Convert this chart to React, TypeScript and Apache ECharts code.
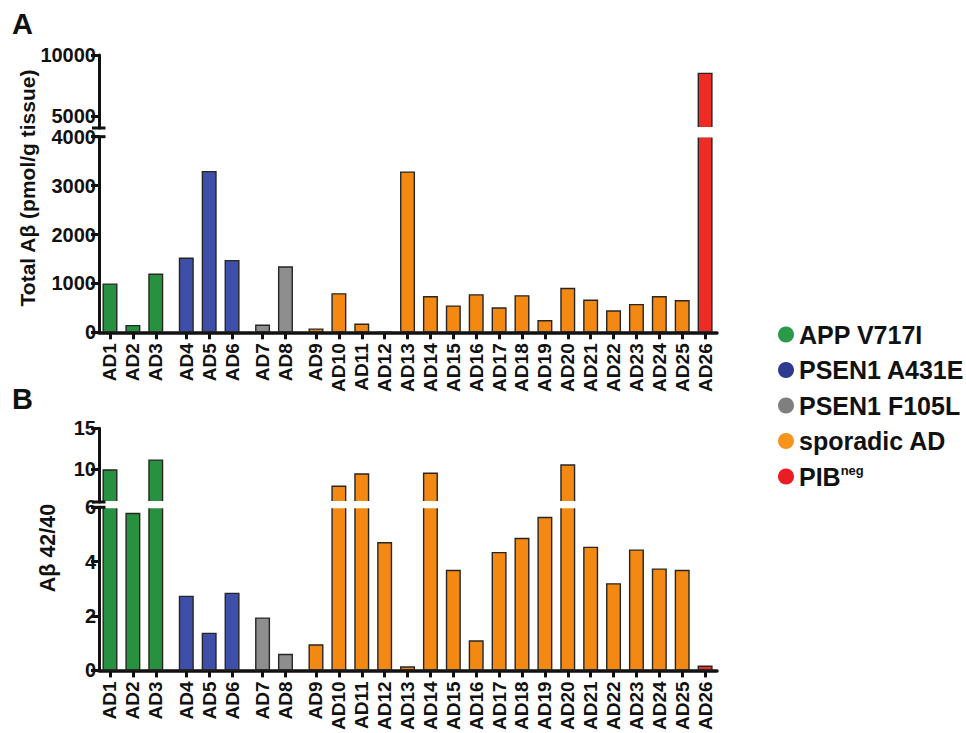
import React, { useEffect, useRef } from 'react';
import * as echarts from 'echarts';

const cases = ['AD1','AD2','AD3','AD4','AD5','AD6','AD7','AD8','AD9','AD10','AD11','AD12','AD13','AD14','AD15','AD16','AD17','AD18','AD19','AD20','AD21','AD22','AD23','AD24','AD25','AD26'];
// colour group of each case
const groupOf = [0,0,0,1,1,1,2,2,3,3,3,3,3,3,3,3,3,3,3,3,3,3,3,3,3,4];
// visual cluster of each case (small gaps between clusters)
const clusterOf = [0,0,0,1,1,1,2,2,3,3,3,3,3,3,3,3,3,3,3,3,3,3,3,3,3,3];
const groupNames = ['APP V717I','PSEN1 A431E','PSEN1 F105L','sporadic AD','PIB'];
const barColors = ['#27913f','#3d4fa8','#8d8e8d','#f38812','#ee2b24'];
const legendColors = ['#2a9a48','#2e3a8f','#7f7f7f','#f7941d','#ec1c24'];

// Panel A: Total Aβ (pmol/g tissue)
const totalAbeta = [1000,150,1200,1530,3300,1480,160,1350,80,800,180,10,3290,740,550,780,510,760,250,910,670,450,580,740,660,8550];
const totalTicksUpper = [5000,10000];
const totalBreak = 4000;
const totalMax = 10000;

// Panel B: Aβ 42/40
const ratio4240 = [10.0,5.8,11.2,2.75,1.39,2.86,1.95,0.61,0.96,8.0,9.5,4.72,0.15,9.6,3.70,1.11,4.36,4.88,5.65,10.6,4.55,3.21,4.45,3.75,3.70,0.18];
const ratioTicksUpper = [10,15];
const ratioBreak = 6;
const ratioMax = 15;

const FONT = 'Liberation Sans, Arial, Helvetica, sans-serif';
const GAP = 1 / 3;
const positions = cases.map((_, i) => i + GAP * clusterOf[i]);

export default function App() {
  const ref = useRef<HTMLDivElement>(null);
  useEffect(() => {
    if (!ref.current) return;
    const chart = echarts.init(ref.current, undefined, { renderer: 'svg' });

    const left = 99;
    const width = 618;
    const grids = [
      { left, width, top: 55, height: 73 },
      { left, width, top: 136.7, height: 195.6 },
      { left, width, top: 428.3, height: 73.7 },
      { left, width, top: 507.3, height: 163.7 },
    ];

    const labelFor = (v: number) => {
      const i = positions.findIndex((p) => Math.abs(p - v) < 1e-6);
      return i >= 0 ? cases[i] : '';
    };

    const xAxes = grids.map((_, k) => {
      const lower = k % 2 === 1;
      return {
        type: 'value', gridIndex: k, min: -0.48, max: 26.52, show: lower,
        splitLine: { show: false },
        axisLine: { show: lower, onZero: false, lineStyle: { color: '#111', width: 3.5 } },
        axisTick: { show: lower, customValues: positions, length: 7, lineStyle: { color: '#111', width: 3 } },
        axisLabel: { show: lower, customValues: positions, formatter: labelFor, rotate: 90, margin: 11,
          fontSize: 19, fontWeight: 'bold', fontFamily: FONT, color: '#111' },
      };
    });

    const yCommon = (k: number) => ({
      type: 'value', gridIndex: k,
      splitLine: { show: false },
      axisLine: { show: true, onZero: false, lineStyle: { color: '#111', width: 3 } },
      axisTick: { show: true, length: 8, lineStyle: { color: '#111', width: 3 } },
      axisLabel: { fontSize: 20, fontWeight: 'bold', fontFamily: FONT, color: '#111', margin: 3, formatter: (v: number) => String(v) },
    });
    const yAxes = [
      { ...yCommon(0), min: totalBreak, max: totalMax,
        axisTick: { ...yCommon(0).axisTick, customValues: totalTicksUpper },
        axisLabel: { ...yCommon(0).axisLabel, customValues: totalTicksUpper } },
      { ...yCommon(1), min: 0, max: totalBreak, interval: 1000 },
      { ...yCommon(2), min: ratioBreak, max: ratioMax,
        axisTick: { ...yCommon(2).axisTick, customValues: ratioTicksUpper },
        axisLabel: { ...yCommon(2).axisLabel, customValues: ratioTicksUpper } },
      { ...yCommon(3), min: 0, max: ratioBreak, interval: 2 },
    ];

    const panels = [
      { values: totalAbeta, brk: totalBreak, upper: 0, lower: 1 },
      { values: ratio4240, brk: ratioBreak, upper: 2, lower: 3 },
    ];

    const series: any[] = [];
    panels.forEach((p) => {
      groupNames.forEach((name, g) => {
        const idx = cases.map((_, i) => i).filter((i) => groupOf[i] === g);
        [p.upper, p.lower].forEach((axisIdx) => {
          const isUpper = axisIdx === p.upper;
          series.push({
            type: 'bar', name, xAxisIndex: axisIdx, yAxisIndex: axisIdx,
            barWidth: 15, barGap: '-100%', clip: true,
            itemStyle: { color: barColors[g], borderColor: '#262626', borderWidth: 1.4 },
            emphasis: { disabled: true },
            data: idx.filter((i) => !isUpper || p.values[i] > p.brk).map((i) => [positions[i], p.values[i]]),
          });
        });
      });
    });

    const breakLine = (y: number) => ({
      type: 'line', z: 101,
      shape: { x1: 92, y1: y, x2: 105.5, y2: y },
      style: { stroke: '#111', lineWidth: 3 },
    });
    // white band hiding the bar edges where the axis is broken
    const band = (yTop: number, yBottom: number) => ({
      type: 'rect', z: 100,
      shape: { x: 101.5, y: yTop - 0.9, width: 616, height: yBottom - yTop + 1.8 },
      style: { fill: '#ffffff' },
    });
    const aUpperBottom = grids[0].top + grids[0].height;
    const bUpperBottom = grids[2].top + grids[2].height;

    chart.setOption({
      animation: false,
      grid: grids, xAxis: xAxes, yAxis: yAxes, series,
      legend: {
        orient: 'vertical', left: 773, top: 317, icon: 'circle',
        itemWidth: 16, itemHeight: 16, itemGap: 10.5, selectedMode: false,
        itemStyle: { borderWidth: 0 },
        data: groupNames.map((n, i) => ({ name: n, itemStyle: { color: legendColors[i], borderWidth: 0 } })),
        formatter: (name: string) => (name === 'PIB' ? 'PIB{s|neg}' : name),
        textStyle: {
          fontSize: 25, fontWeight: 'bold', fontFamily: FONT, color: '#111',
          rich: { s: { fontSize: 13, fontWeight: 'bold', fontFamily: FONT, color: '#111', verticalAlign: 'top', padding: [0, 0, 11, 0] } },
        },
      },
      graphic: [
        band(aUpperBottom, grids[1].top),
        band(bUpperBottom, grids[3].top),
        { type: 'text', left: 12, top: 9, style: { text: 'A', font: `bold 29px ${FONT}`, fill: '#111' } },
        { type: 'text', left: 12, top: 384, style: { text: 'B', font: `bold 29px ${FONT}`, fill: '#111' } },
        { type: 'text', x: 27, y: 188, rotation: Math.PI / 2,
          style: { text: 'Total Aβ (pmol/g tissue)', font: `bold 21px ${FONT}`, fill: '#111', textAlign: 'center', textVerticalAlign: 'middle' } },
        { type: 'text', x: 48, y: 548, rotation: Math.PI / 2,
          style: { text: 'Aβ 42/40', font: `bold 21.5px ${FONT}`, fill: '#111', textAlign: 'center', textVerticalAlign: 'middle' } },
        breakLine(aUpperBottom), breakLine(grids[1].top), breakLine(bUpperBottom), breakLine(grids[3].top),
      ],
    });
    return () => chart.dispose();
  }, []);
  return <div ref={ref} style={{ position: 'fixed', left: 0, top: 0, width: 966, height: 733, background: '#fff' }} />;
}
